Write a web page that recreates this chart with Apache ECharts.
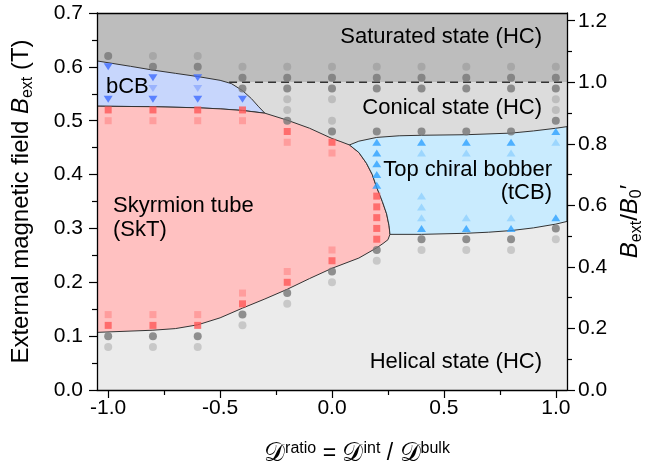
<!DOCTYPE html>
<html>
<head>
<meta charset="utf-8">
<script src="https://cdn.jsdelivr.net/npm/echarts@6/dist/echarts.min.js"></script>
<style>
html, body { margin: 0; padding: 0; background: #fff; }
#chart { width: 649px; height: 468px; }
</style>
</head>
<body>
<div id="chart"></div>
<script>
const FONT = "'Liberation Sans', Arial, sans-serif";
const B0 = 0.5714;              // B0' in T, right axis is Bext / B0'
const X_MIN = -1.05, X_MAX = 1.05, Y_MAX = 0.7;

const xTicks = [-1.0, -0.5, 0.0, 0.5, 1.0];
const xMinorTicks = [-0.75, -0.25, 0.25, 0.75];
const ratioTicks = [0, 0.2, 0.4, 0.6, 0.8, 1.0, 1.2];
const ratioMinorTicks = [0.1, 0.3, 0.5, 0.7, 0.9, 1.1];

// phase boundaries, [Dratio, Bext (T)]
const bcbTop = [[-1.05, 0.611], [-0.9, 0.601], [-0.8, 0.594], [-0.7, 0.588], [-0.6, 0.582],
  [-0.5, 0.575], [-0.45, 0.569], [-0.4, 0.556], [-0.36, 0.541], [-0.33, 0.527], [-0.30, 0.514]];
const sktTop = [[-1.05, 0.527], [-0.8, 0.526], [-0.6, 0.524], [-0.5, 0.522], [-0.4, 0.519],
  [-0.30, 0.514], [-0.2, 0.501], [-0.1, 0.486], [0.0, 0.467], [0.04, 0.461], [0.078, 0.455]];
const sktRight = [[0.078, 0.455], [0.12, 0.441], [0.154, 0.421], [0.18, 0.400], [0.199, 0.377],
  [0.225, 0.350], [0.244, 0.327], [0.255, 0.305], [0.259, 0.289]];
const sktBottom = [[0.259, 0.289], [0.25, 0.279], [0.228, 0.272], [0.2, 0.264], [0.12, 0.245],
  [0.0, 0.226], [-0.1, 0.207], [-0.2, 0.187], [-0.3, 0.169], [-0.4, 0.152], [-0.5, 0.134],
  [-0.6, 0.121], [-0.7, 0.114], [-0.8, 0.111], [-1.05, 0.107]];
const tcbTop = [[0.078, 0.455], [0.12, 0.462], [0.2, 0.469], [0.3, 0.472], [0.4, 0.473],
  [0.6, 0.474], [0.8, 0.477], [0.9, 0.481], [1.0, 0.486], [1.05, 0.489]];
const tcbBottom = [[0.259, 0.289], [0.4, 0.289], [0.6, 0.291], [0.7, 0.293], [0.8, 0.296],
  [0.9, 0.301], [1.0, 0.308], [1.05, 0.313]];
const conicalLine = [[-0.46, B0], [1.05, B0]];

// simulated states
const grayDark = [[-1, 0.62], [-1, 0.10], [-0.8, 0.60], [-0.8, 0.10], [-0.6, 0.60], [-0.6, 0.10],
  [-0.4, 0.58], [-0.4, 0.56], [-0.4, 0.14], [-0.2, 0.58], [-0.2, 0.56], [-0.2, 0.50], [-0.2, 0.18],
  [0, 0.58], [0, 0.56], [0, 0.48], [0, 0.22], [0.2, 0.58], [0.2, 0.56], [0.2, 0.48], [0.2, 0.26],
  [0.4, 0.58], [0.4, 0.56], [0.4, 0.48], [0.4, 0.28], [0.6, 0.58], [0.6, 0.56], [0.6, 0.48], [0.6, 0.28],
  [0.8, 0.58], [0.8, 0.56], [0.8, 0.48], [0.8, 0.28], [1, 0.58], [1, 0.56], [1, 0.50], [1, 0.30]];
const grayLight = [[-1, 0.08], [-0.8, 0.62], [-0.8, 0.08], [-0.6, 0.62], [-0.6, 0.08],
  [-0.4, 0.60], [-0.4, 0.12], [-0.2, 0.60], [-0.2, 0.54], [-0.2, 0.52], [-0.2, 0.16],
  [0, 0.60], [0, 0.54], [0, 0.50], [0, 0.20], [0.2, 0.60], [0.2, 0.24], [0.4, 0.60], [0.4, 0.26],
  [0.6, 0.60], [0.6, 0.26], [0.8, 0.60], [0.8, 0.26], [1, 0.60], [1, 0.54], [1, 0.52], [1, 0.28]];
const redDark = [[-1, 0.52], [-1, 0.12], [-0.8, 0.52], [-0.8, 0.12], [-0.6, 0.52], [-0.6, 0.12],
  [-0.4, 0.52], [-0.4, 0.16], [-0.2, 0.48], [-0.2, 0.20], [0, 0.46], [0, 0.24],
  [0.2, 0.36], [0.2, 0.34], [0.2, 0.32], [0.2, 0.30], [0.2, 0.28]];
const redLight = [[-1, 0.50], [-1, 0.14], [-0.8, 0.50], [-0.8, 0.14], [-0.6, 0.50], [-0.6, 0.14],
  [-0.4, 0.50], [-0.4, 0.18], [-0.2, 0.46], [-0.2, 0.22], [0, 0.44], [0, 0.26]];
const bcbDark = [[-1, 0.60], [-1, 0.54], [-0.8, 0.58], [-0.8, 0.54], [-0.6, 0.58], [-0.6, 0.54], [-0.4, 0.54]];
const bcbLight = [[-0.8, 0.56], [-0.6, 0.56]];
const tcbDark = [[0.2, 0.46], [0.2, 0.44], [0.2, 0.42], [0.2, 0.40], [0.2, 0.38],
  [0.4, 0.46], [0.4, 0.30], [0.6, 0.46], [0.6, 0.30], [0.8, 0.46], [0.8, 0.30], [1, 0.48], [1, 0.32]];
const tcbLight = [[0.4, 0.44], [0.4, 0.36], [0.4, 0.34], [0.4, 0.32], [0.6, 0.44], [0.6, 0.32],
  [0.8, 0.44], [0.8, 0.32], [1, 0.46]];

// regions built from the boundaries
const satRegion = [[X_MIN, B0], [X_MAX, B0], [X_MAX, Y_MAX], [X_MIN, Y_MAX]];
const conicalRegion = [[X_MIN, B0], [X_MAX, B0]].concat(tcbTop.slice().reverse(), sktTop.slice().reverse());
const bcbRegion = bcbTop.concat(sktTop.filter(p => p[0] <= -0.30).reverse());
const sktRegion = sktTop.concat(sktRight, sktBottom);
const tcbRegion = tcbTop.concat(tcbBottom.slice().reverse(), sktRight.slice().reverse());

function region(pts, fill, stroke) {
  return {
    type: "custom",
    coordinateSystem: "cartesian2d",
    clip: true,
    silent: true,
    z: 1,
    data: [[0, 0]],
    renderItem: (params, api) => ({
      type: "polygon",
      shape: { points: pts.map(p => api.coord(p)) },
      style: { fill: fill, stroke: stroke || null, lineWidth: 1 }
    })
  };
}

function dots(data, symbol, color, size, rotate) {
  return {
    type: "scatter",
    data: data,
    symbol: symbol,
    symbolSize: size,
    symbolRotate: rotate || 0,
    itemStyle: { color: color },
    silent: true,
    z: 3
  };
}

const chart = echarts.init(document.getElementById("chart"));
const line = { lineStyle: { color: "#000", width: 1.3 }, onZero: false };
const lbl = { color: "#000", fontSize: 21, fontFamily: FONT };

chart.setOption({
  animation: false,
  grid: {
    left: 97, right: 82, top: 13, bottom: 78,
    containLabel: false, outerBoundsMode: "none",
    show: true, backgroundColor: "#ebebeb", borderWidth: 0
  },
  xAxis: [
    {
      type: "value", min: X_MIN, max: X_MAX, position: "bottom", z: 10,
      axisLine: line,
      axisTick: { customValues: xTicks, length: 8, lineStyle: { color: "#000", width: 1.2 } },
      axisLabel: Object.assign({ customValues: xTicks, margin: 8, formatter: v => v.toFixed(1) }, lbl),
      splitLine: { show: false },
      name: "{d|𝒟}{sup|ratio}{n| = }{d|𝒟}{sup|int}{n| / }{d|𝒟}{sup|bulk}",
      nameLocation: "middle",
      nameGap: 51,
      nameTextStyle: {
        padding: [0, 0, 0, 50],
        rich: {
          n: { fontSize: 23, fontFamily: FONT, color: "#000", lineHeight: 26 },
          d: { fontSize: 26, fontFamily: "'DejaVu Serif', 'DejaVu Sans', serif", color: "#000", lineHeight: 26 },
          sup: { fontSize: 16, fontFamily: FONT, color: "#000", lineHeight: 12, verticalAlign: "top" }
        }
      }
    },
    {
      type: "value", min: X_MIN, max: X_MAX, position: "bottom", z: 10,
      axisLine: { show: false, onZero: false },
      axisTick: { customValues: xMinorTicks, length: 5, lineStyle: { color: "#000", width: 1.2 } },
      axisLabel: { show: false },
      splitLine: { show: false }
    },
    {
      type: "value", min: X_MIN, max: X_MAX, position: "top", z: 10,
      axisLine: line, axisTick: { show: false }, axisLabel: { show: false }, splitLine: { show: false }
    }
  ],
  yAxis: [
    {
      type: "value", min: 0, max: Y_MAX, interval: 0.1, position: "left", z: 10,
      axisLine: line,
      axisTick: { length: 8, lineStyle: { color: "#000", width: 1.2 } },
      minorTick: { show: true, splitNumber: 2, length: 5, lineStyle: { color: "#000", width: 1.2 } },
      axisLabel: Object.assign({ margin: 14, formatter: v => v.toFixed(1) }, lbl),
      splitLine: { show: false },
      name: "{n|External magnetic field }{i|B}{s|ext}{n| (T)}",
      nameLocation: "middle",
      nameRotate: 90,
      nameGap: 61,
      nameTextStyle: {
        rich: {
          n: { fontSize: 24, fontFamily: FONT, color: "#000", lineHeight: 29 },
          i: { fontSize: 24, fontFamily: FONT, fontStyle: "italic", color: "#000", lineHeight: 29 },
          s: { fontSize: 16, fontFamily: FONT, color: "#000", lineHeight: 12, verticalAlign: "bottom" }
        }
      }
    },
    {
      type: "value", min: 0, max: Y_MAX / B0, position: "right", z: 10,
      axisLine: line,
      axisTick: { customValues: ratioTicks, length: 8, lineStyle: { color: "#000", width: 1.2 } },
      axisLabel: Object.assign({ customValues: ratioTicks, margin: 11, formatter: v => v.toFixed(1) }, lbl),
      splitLine: { show: false },
      name: "{i|B}{s|ext}{n|/}{i|B}{s|0}{n|′}",
      nameLocation: "middle",
      nameRotate: 90,
      nameGap: 45,
      nameTextStyle: {
        padding: [0, 40, 0, 0],
        rich: {
          n: { fontSize: 24, fontFamily: FONT, color: "#000", lineHeight: 29 },
          i: { fontSize: 24, fontFamily: FONT, fontStyle: "italic", color: "#000", lineHeight: 29 },
          s: { fontSize: 16, fontFamily: FONT, color: "#000", lineHeight: 12, verticalAlign: "bottom" }
        }
      }
    },
    {
      type: "value", min: 0, max: Y_MAX / B0, position: "right", z: 10,
      axisLine: { show: false, onZero: false },
      axisTick: { customValues: ratioMinorTicks, length: 5, lineStyle: { color: "#000", width: 1.2 } },
      axisLabel: { show: false },
      splitLine: { show: false }
    }
  ],
  series: [
    region(satRegion, "#bdbdbd"),
    region(conicalRegion, "#dcdcdc"),
    region(bcbRegion, "#c7d6fc", "#333"),
    region(sktRegion, "#ffc1c1", "#333"),
    region(tcbRegion, "#c9ebfe", "#333"),
    {
      type: "line", data: conicalLine, symbol: "none", silent: true, z: 2,
      lineStyle: { color: "#333", width: 1.3, type: [8, 5] }
    },
    dots(grayLight, "circle", "rgba(110,110,110,0.35)", 8),
    dots(grayDark, "circle", "#777777", 8),
    dots(redLight, "rect", "rgba(255,85,85,0.42)", 7),
    dots(redDark, "rect", "#ff5858", 7),
    dots(bcbLight, "triangle", "rgba(60,105,255,0.4)", [9, 7], 180),
    dots(bcbDark, "triangle", "#3f6cff", [9, 7], 180),
    dots(tcbLight, "triangle", "rgba(40,160,255,0.35)", [9, 7]),
    dots(tcbDark, "triangle", "#2ea1ff", [9, 7])
  ],
  graphic: [
    { type: "text", x: 542, y: 37, z: 100, style: { text: "Saturated state (HC)", align: "right", verticalAlign: "middle", fontSize: 22, fontFamily: FONT, fill: "#000" } },
    { type: "text", x: 542, y: 108, z: 100, style: { text: "Conical state (HC)", align: "right", verticalAlign: "middle", fontSize: 22, fontFamily: FONT, fill: "#000" } },
    { type: "text", x: 542, y: 362, z: 100, style: { text: "Helical state (HC)", align: "right", verticalAlign: "middle", fontSize: 22, fontFamily: FONT, fill: "#000" } },
    { type: "text", x: 552, y: 170, z: 100, style: { text: "Top chiral bobber", align: "right", verticalAlign: "middle", fontSize: 22, fontFamily: FONT, fill: "#000" } },
    { type: "text", x: 552, y: 193, z: 100, style: { text: "(tCB)", align: "right", verticalAlign: "middle", fontSize: 22, fontFamily: FONT, fill: "#000" } },
    { type: "text", x: 106, y: 87, z: 100, style: { text: "bCB", align: "left", verticalAlign: "middle", fontSize: 22, fontFamily: FONT, fill: "#000" } },
    { type: "text", x: 113, y: 206, z: 100, style: { text: "Skyrmion tube", align: "left", verticalAlign: "middle", fontSize: 22, fontFamily: FONT, fill: "#000" } },
    { type: "text", x: 113, y: 230, z: 100, style: { text: "(SkT)", align: "left", verticalAlign: "middle", fontSize: 22, fontFamily: FONT, fill: "#000" } }
  ]
});
</script>
</body>
</html>
